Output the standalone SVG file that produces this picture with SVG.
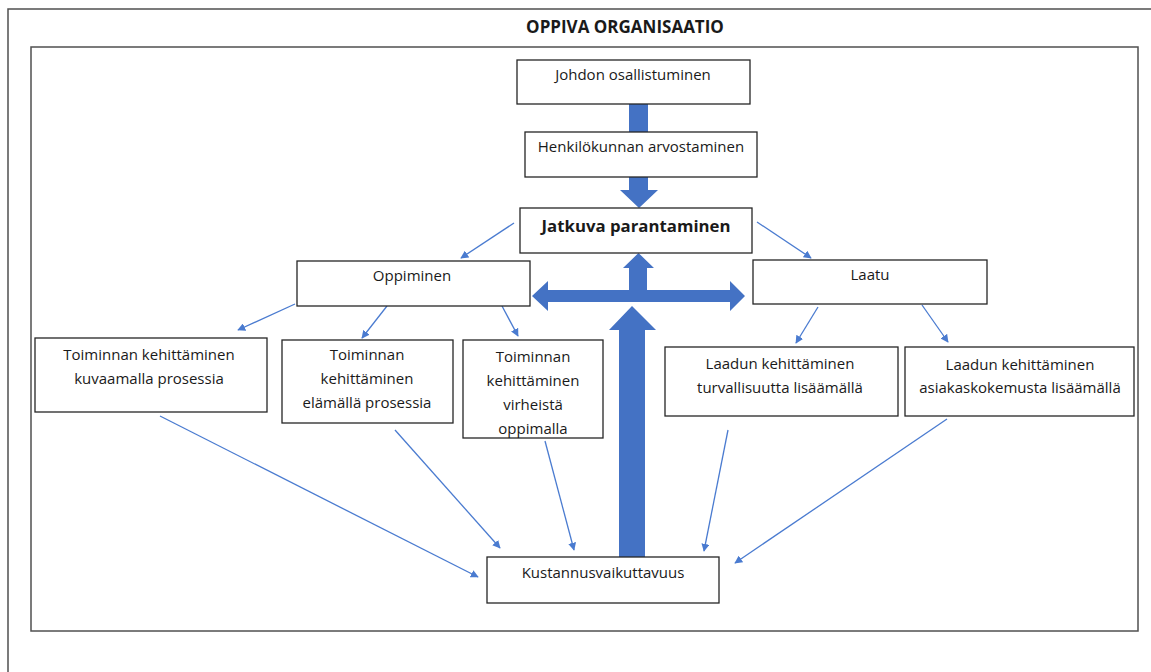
<svg xmlns="http://www.w3.org/2000/svg" width="1151" height="672" viewBox="0 0 1151 672">
<style>
.frame{fill:none;stroke:#505050;stroke-width:1.5}
.box{fill:#fff;stroke:#262626;stroke-width:1.3}
.t{font-family:"Open Sans","Liberation Sans",Arial,sans-serif;font-size:15px;fill:#1a1a1a;text-anchor:middle}
.b{font-weight:bold}
.thin{stroke:#4a7bd0;stroke-width:1.3;fill:none;marker-end:url(#ah)}
.thick{fill:#4472c4}
</style>
<defs>
<marker id="ah" viewBox="0 0 10 10" refX="9" refY="5" markerWidth="8" markerHeight="8" markerUnits="userSpaceOnUse" orient="auto">
<path d="M0,0 L10,5 L0,10 z" fill="#4a7bd0"/>
</marker>
</defs>
<rect width="1151" height="672" fill="#fff"/>
<path class="frame" d="M8,672 V9 H1151"/>
<rect class="frame" x="31" y="47" width="1107" height="584"/>
<text class="t b" x="625" y="33" style="font-size:17px">OPPIVA ORGANISAATIO</text>

<g id="thick-arrows">
<rect class="thick" x="629" y="103" width="19" height="30"/>
<polygon class="thick" points="629,176 648,176 648,190 658,190 639,208 620,190 629,190"/>
<polygon class="thick" points="638.5,253 654,268 647,268 647,290 730,290 730,281 745,296 730,311 730,302 548,302 548,311 532,296 548,281 548,290 629,290 629,268 623,268"/>
<polygon class="thick" points="632,306 656,330 645,330 645,557 619,557 619,330 609,330"/>
</g>

<g id="connectors">
<line class="thin" x1="514" y1="223" x2="461" y2="258"/>
<line class="thin" x1="757" y1="222" x2="811" y2="258"/>
<line class="thin" x1="295" y1="304" x2="238" y2="330"/>
<line class="thin" x1="387" y1="306" x2="362" y2="338"/>
<line class="thin" x1="502" y1="306" x2="518" y2="336"/>
<line class="thin" x1="818" y1="307" x2="796" y2="343"/>
<line class="thin" x1="922" y1="305" x2="948" y2="342"/>
<line class="thin" x1="160" y1="416" x2="478" y2="577"/>
<line class="thin" x1="395" y1="430" x2="500" y2="548"/>
<line class="thin" x1="545" y1="441" x2="574" y2="550"/>
<line class="thin" x1="728" y1="430" x2="704" y2="551"/>
<line class="thin" x1="947" y1="419" x2="735" y2="563"/>
</g>

<g id="johdon">
<rect class="box" x="517" y="60" width="233" height="44"/>
<text class="t" x="633" y="80">Johdon osallistuminen</text>
</g>
<g id="henkilokunnan">
<rect class="box" x="525" y="132" width="232" height="45"/>
<text class="t" x="641" y="152">Henkilökunnan arvostaminen</text>
</g>
<g id="jatkuva">
<rect class="box" x="520" y="208" width="232" height="45"/>
<text class="t b" x="636" y="232" style="font-size:16.8px">Jatkuva parantaminen</text>
</g>
<g id="oppiminen">
<rect class="box" x="297" y="261" width="233" height="45"/>
<text class="t" x="412" y="281">Oppiminen</text>
</g>
<g id="laatu">
<rect class="box" x="753" y="260" width="234" height="44"/>
<text class="t" x="870" y="280">Laatu</text>
</g>
<g id="toiminta1">
<rect class="box" x="35" y="338" width="232" height="74"/>
<text class="t" x="149" y="360">Toiminnan kehittäminen</text>
<text class="t" x="149" y="384">kuvaamalla prosessia</text>
</g>
<g id="toiminta2">
<rect class="box" x="282" y="340" width="171" height="83"/>
<text class="t" x="367" y="360">Toiminnan</text>
<text class="t" x="367" y="384">kehittäminen</text>
<text class="t" x="367" y="408">elämällä prosessia</text>
</g>
<g id="toiminta3">
<rect class="box" x="463" y="340" width="140" height="98"/>
<text class="t" x="533" y="362">Toiminnan</text>
<text class="t" x="533" y="386">kehittäminen</text>
<text class="t" x="533" y="410">virheistä</text>
<text class="t" x="533" y="434">oppimalla</text>
</g>
<g id="laadun1">
<rect class="box" x="665" y="347" width="233" height="69"/>
<text class="t" x="780" y="369">Laadun kehittäminen</text>
<text class="t" x="780" y="393">turvallisuutta lisäämällä</text>
</g>
<g id="laadun2">
<rect class="box" x="905" y="347" width="229" height="69"/>
<text class="t" x="1020" y="370">Laadun kehittäminen</text>
<text class="t" x="1020" y="393">asiakaskokemusta lisäämällä</text>
</g>
<g id="kustannus">
<rect class="box" x="487" y="557" width="232" height="46"/>
<text class="t" x="603" y="578">Kustannusvaikuttavuus</text>
</g>
</svg>
